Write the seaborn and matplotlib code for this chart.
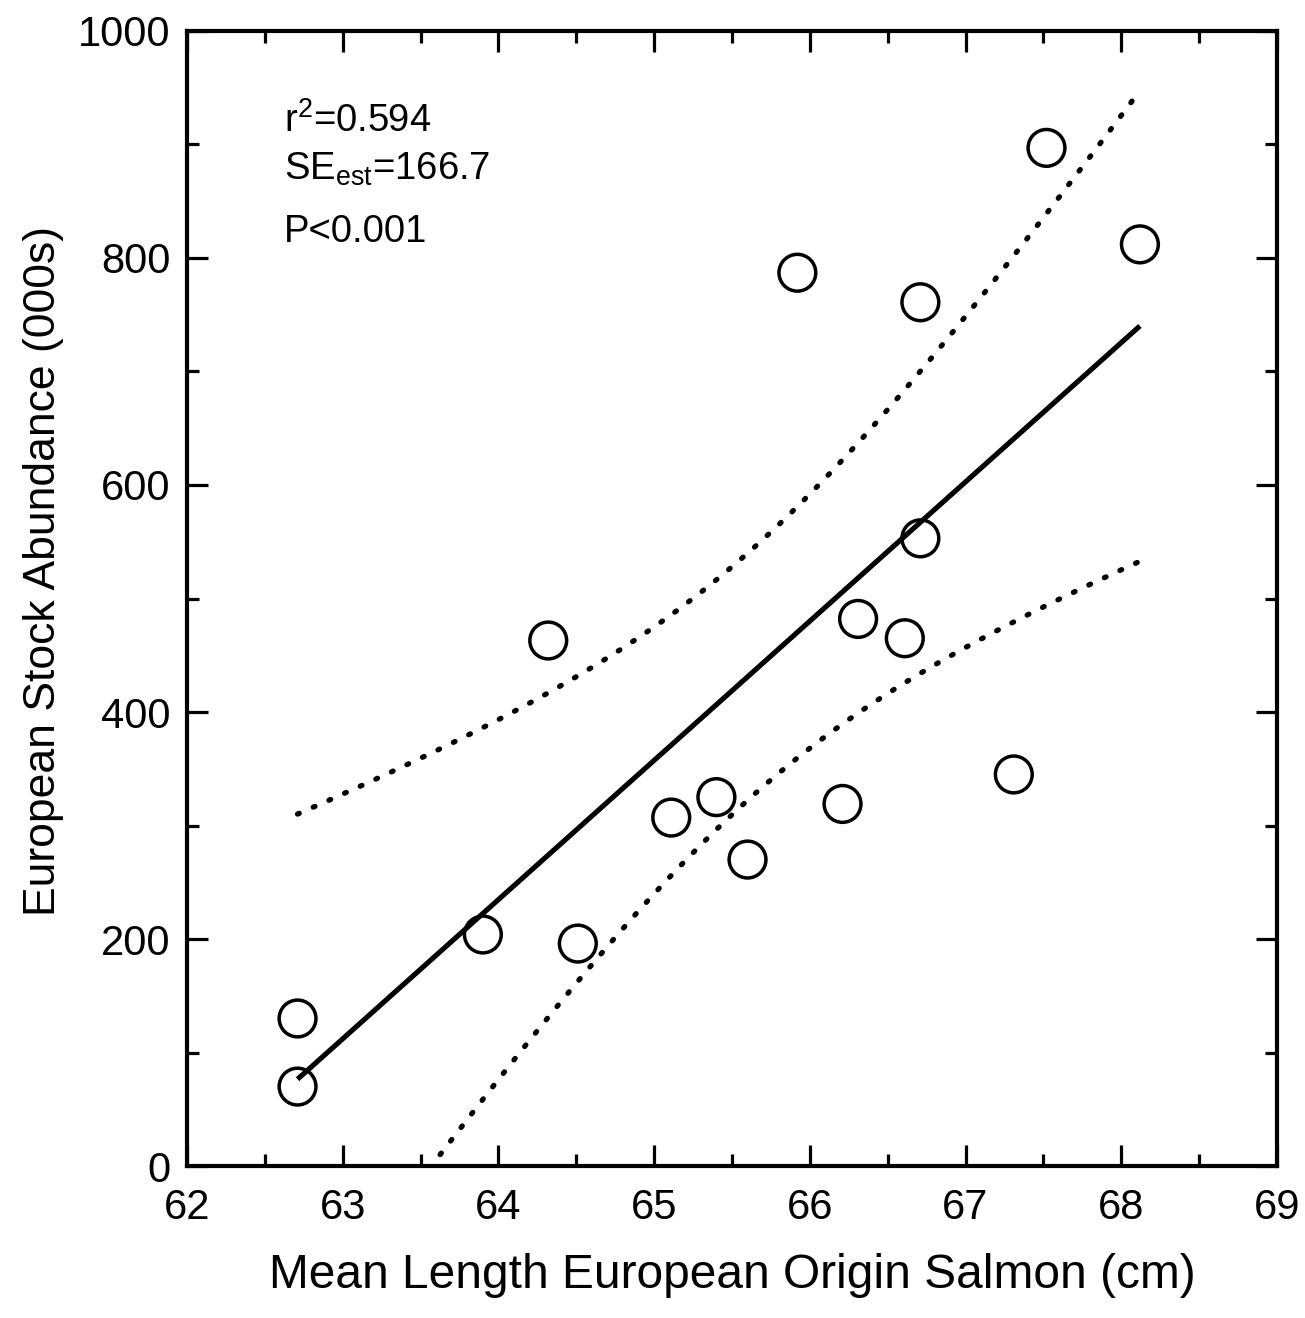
import numpy as np
import pandas as pd
import seaborn as sns
import matplotlib.pyplot as plt
from matplotlib.ticker import MultipleLocator

# values
length_cm = [62.71, 62.71, 63.90, 64.51, 64.32, 65.11, 65.40, 65.60, 65.92,
             66.21, 66.31, 66.61, 66.71, 66.71, 67.31, 67.52, 68.12]
abundance = [130, 70, 204, 196, 463, 307, 325, 270, 787,
             319, 482, 465, 553, 761, 345, 897, 812]
stats_text = ["$\\mathregular{r^2}$=0.594",
              "$\\mathregular{SE_{est}}$=166.7",
              "P<0.001"]
t_crit = 2.7  # band multiplier, matched to the drawn band

data = pd.DataFrame({"x": length_cm, "y": abundance})

# least squares fit and confidence band for the mean
x = data["x"].to_numpy()
y = data["y"].to_numpy()
n = len(x)
slope, intercept = np.polyfit(x, y, 1)
resid = y - (slope * x + intercept)
se_est = np.sqrt((resid ** 2).sum() / (n - 2))
sxx = ((x - x.mean()) ** 2).sum()
xs = np.linspace(x.min(), x.max(), 200)
fit = slope * xs + intercept
half = t_crit * se_est * np.sqrt(1 / n + (xs - x.mean()) ** 2 / sxx)
curves = pd.DataFrame({"x": xs, "fit": fit, "upper": fit + half, "lower": fit - half})

sns.set_style("ticks")
plt.rcParams["font.family"] = ["Liberation Sans", "DejaVu Sans"]
plt.rcParams["mathtext.fontset"] = "custom"
plt.rcParams["mathtext.rm"] = "Liberation Sans"
plt.rcParams["text.color"] = "black"
plt.rcParams["axes.labelcolor"] = "black"

fig = plt.figure(figsize=(13.05, 13.18), dpi=100)
ax = fig.add_axes([0.1433, 0.1153, 0.8352, 0.8612])

sns.lineplot(data=curves, x="x", y="fit", ax=ax, color="black", lw=3.7,
             solid_capstyle="butt")
for col in ["upper", "lower"]:
    sns.lineplot(data=curves, x="x", y=col, ax=ax, color="black", lw=3.8,
                 linestyle=(0, (0.35, 2.9)), dash_capstyle="round")
sns.scatterplot(data=data, x="x", y="y", ax=ax, marker="o", s=26.5 ** 2,
                facecolors="none", edgecolor="black", linewidth=2.5, zorder=3)

ax.set_xlim(62, 69)
ax.set_ylim(0, 1000)
ax.xaxis.set_major_locator(MultipleLocator(1))
ax.xaxis.set_minor_locator(MultipleLocator(0.5))
ax.yaxis.set_major_locator(MultipleLocator(200))
ax.yaxis.set_minor_locator(MultipleLocator(100))
ax.tick_params(which="both", direction="in", top=True, right=True,
               width=2.3, color="black", labelsize=30, labelcolor="black")
ax.tick_params(which="major", length=15, pad=12)
ax.tick_params(axis="x", which="major", pad=16)
ax.tick_params(which="minor", length=8.5)
for sp in ax.spines.values():
    sp.set_linewidth(3.0)
    sp.set_color("black")

ax.set_xlabel("Mean Length European Origin Salmon (cm)", fontsize=34.5, labelpad=18)
ax.set_ylabel("European Stock Abundance (000s)", fontsize=32)
ax.yaxis.set_label_coords(-0.113, 0.524)

for txt, yy in zip(stats_text, [911, 869, 814]):
    ax.text(62.62, yy, txt, fontsize=27.5, va="baseline", ha="left")

fig.savefig("out.png", dpi=100)
